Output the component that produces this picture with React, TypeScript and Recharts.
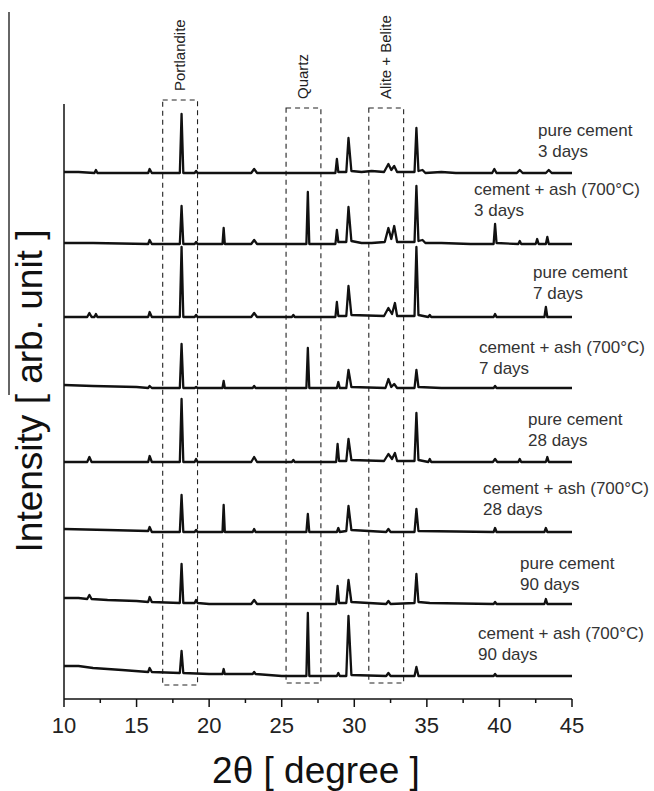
import React from "react";
import { LineChart, Line, XAxis, YAxis, ReferenceArea, ReferenceLine } from "recharts";

// 2theta ticks (major ones get a label)
const xTicks = [10, 12.5, 15, 17.5, 20, 22.5, 25, 27.5, 30, 32.5, 35, 37.5, 40, 42.5, 45];
const majorTicks = [10, 15, 20, 25, 30, 35, 40, 45];

// vertical offset of each pattern (arb. units), top to bottom
const offsets = [526, 455, 382, 311, 237, 167, 95, 23];

const sampleNames = [
  "pure cement", "cement + ash (700°C)", "pure cement", "cement + ash (700°C)",
  "pure cement", "cement + ash (700°C)", "pure cement", "cement + ash (700°C)",
];
const sampleAges = ["3 days", "3 days", "7 days", "7 days", "28 days", "28 days", "90 days", "90 days"];

// phase windows [from, to, bottom, top]
const phaseNames = ["Portlandite", "Quartz", "Alite + Belite"];
const phaseBoxes = [
  [16.8, 19.2, 14, 599],
  [25.3, 27.7, 16, 591],
  [31.0, 33.4, 16, 591],
];

// measured patterns [2theta, intensity]
const pc3: number[][] = [
  [10, 1], [11, 1], [12.1, 0], [12.2, 3], [12.3, 0], [14, 0], [15.8, 0], [15.9, 4], [16.05, 0],
  [17.98, 0], [18.1, 59], [18.22, 0], [19, 0], [19.1, 2], [19.2, 0], [22.9, 0], [23.1, 4], [23.3, 0],
  [26, 0], [28.7, 0], [28.8, 14], [28.9, 1], [29.45, 1], [29.6, 35], [29.8, 2], [30.5, 1], [31.2, 2],
  [32.05, 1], [32.35, 9], [32.55, 3], [32.75, 7], [32.95, 1], [34.15, 1], [34.28, 45], [34.42, 2],
  [34.7, 3], [34.9, 0], [36, 1], [37, 0], [39.5, 0], [39.65, 4], [39.8, 0], [41.2, 0], [41.4, 3],
  [41.6, 0], [43.2, 0], [43.4, 3], [43.6, 0], [45, 0],
];
const ash3: number[][] = [
  [10, 1], [12, 1], [15.8, 0], [15.9, 4], [16.05, 0], [17.98, 0], [18.1, 38], [18.22, 0], [19, 0],
  [19.1, 2], [19.2, 0], [20.92, 0], [21.0, 16], [21.08, 0], [22.9, 0], [23.1, 4], [23.3, 0], [26.7, 0],
  [26.8, 52], [26.9, 0], [28.7, 0], [28.8, 14], [28.9, 2], [29.45, 2], [29.6, 37], [29.8, 3], [30.5, 1],
  [31.2, 1], [32.1, 2], [32.35, 16], [32.55, 5], [32.75, 18], [32.95, 2], [34.15, 2], [34.28, 58],
  [34.42, 3], [34.7, 4], [34.9, 1], [36, 1], [38, 0], [39.6, 0], [39.7, 20], [39.8, 1], [41.3, 0],
  [41.4, 3], [41.5, 0], [42.5, 0], [42.6, 5], [42.7, 0], [43.2, 0], [43.3, 7], [43.4, 0], [45, 0],
];
const pc7: number[][] = [
  [10, 0], [11.6, 0], [11.75, 4], [11.9, 0], [12.1, 0], [12.2, 3], [12.3, 0], [15.8, 0], [15.9, 5],
  [16.05, 0], [17.98, 0], [18.1, 70], [18.22, 0], [19, 0], [19.1, 2], [19.2, 0], [22.9, 0], [23.1, 4],
  [23.3, 0], [25.7, 0], [25.8, 2], [25.9, 0], [28.7, 0], [28.8, 15], [28.9, 1], [29.45, 1], [29.6, 31],
  [29.8, 2], [32.05, 1], [32.35, 9], [32.6, 3], [32.8, 14], [32.95, 1], [34.15, 1], [34.28, 70],
  [34.42, 2], [35.1, 0], [35.2, 2], [35.3, 0], [39.6, 0], [39.7, 3], [39.8, 0], [43.1, 0], [43.2, 10],
  [43.3, 0], [45, 0],
];
const ash7: number[][] = [
  [10, 3], [12, 2], [15, 1], [15.8, 0], [15.9, 2], [16.05, 0], [17.98, 0], [18.1, 44], [18.22, 0],
  [19, 0], [19.1, 1], [19.2, 0], [20.92, 0], [21.0, 7], [21.08, 0], [23, 0], [23.1, 2], [23.2, 0],
  [26.7, 0], [26.8, 40], [26.9, 0], [28.8, 0], [28.9, 6], [29.0, 0], [29.45, 0], [29.6, 18], [29.8, 1],
  [32.15, 0], [32.35, 9], [32.55, 1], [32.75, 4], [32.95, 0], [34.15, 0], [34.28, 18], [34.42, 1],
  [36, 0], [39.6, 0], [39.7, 2], [39.8, 0], [45, 0],
];
const pc28: number[][] = [
  [10, 0], [11.6, 0], [11.75, 5], [11.9, 0], [15.8, 0], [15.9, 6], [16.05, 0], [17.98, 0], [18.1, 63],
  [18.22, 0], [19, 0], [19.1, 3], [19.2, 0], [22.9, 0], [23.1, 5], [23.3, 0], [25.7, 0], [25.8, 2],
  [25.9, 0], [28.75, 0], [28.85, 18], [28.95, 1], [29.45, 1], [29.6, 23], [29.8, 2], [32.05, 1],
  [32.35, 8], [32.6, 3], [32.8, 9], [32.95, 1], [34.15, 1], [34.28, 49], [34.42, 2], [35.1, 0],
  [35.2, 3], [35.3, 0], [39.55, 0], [39.7, 3], [39.85, 0], [41.3, 0], [41.4, 3], [41.5, 0], [43.2, 0],
  [43.3, 5], [43.4, 0], [45, 0],
];
const ash28: number[][] = [
  [10, 3], [13, 2], [15.8, 1], [15.9, 5], [16.05, 0], [17.98, 0], [18.1, 37], [18.22, 0], [19, 0],
  [19.1, 2], [19.2, 0], [20.92, 0], [21.0, 27], [21.08, 0], [23, 0], [23.1, 3], [23.2, 0], [26.7, 0],
  [26.8, 18], [26.9, 0], [28.8, 0], [28.9, 4], [29.0, 0], [29.45, 1], [29.6, 26], [29.8, 2], [32.2, 0],
  [32.35, 3], [32.5, 0], [34.15, 0], [34.28, 23], [34.42, 1], [39.6, 0], [39.7, 4], [39.8, 0],
  [43.1, 0], [43.2, 4], [43.3, 0], [45, 0],
];
const pc90: number[][] = [
  [10, 6], [11, 6], [11.6, 5], [11.75, 9], [11.9, 5], [13, 4], [15, 3], [15.8, 2], [15.9, 7],
  [16.05, 2], [17.98, 1], [18.1, 40], [18.22, 1], [19, 1], [19.1, 4], [19.2, 1], [20, 0], [22.9, 0],
  [23.1, 4], [23.3, 0], [28.75, 0], [28.85, 18], [28.95, 1], [29.45, 1], [29.6, 24], [29.8, 2],
  [32.2, 0], [32.35, 3], [32.5, 0], [34.15, 1], [34.28, 30], [34.42, 2], [35.2, 1], [39.6, 0],
  [39.7, 2], [39.8, 0], [43.1, 0], [43.2, 5], [43.3, 0], [45, 0],
];
const ash90: number[][] = [
  [10, 10], [11, 10], [12, 8], [14, 6], [15.8, 4], [15.9, 8], [16.05, 4], [17.98, 3], [18.1, 25],
  [18.22, 3], [20, 2], [20.92, 2], [21.0, 7], [21.08, 2], [23, 2], [23.1, 4], [23.2, 2], [25, 0],
  [26.7, 0], [26.8, 63], [26.9, 0], [28.8, 0], [28.9, 3], [29.0, 0], [29.45, 0], [29.6, 60], [29.8, 1],
  [32.2, 0], [32.35, 3], [32.5, 0], [34.15, 0], [34.28, 9], [34.42, 0], [39.6, 0], [39.7, 2],
  [39.8, 0], [45, 0],
];

const patterns = [pc3, ash3, pc7, ash7, pc28, ash28, pc90, ash90];

// label anchor (px) for each pattern caption
const labelPos = [
  [538, 136], [474, 195], [533, 278], [479, 353],
  [528, 425], [483, 494], [520, 569], [478, 639],
];

const FONT = '"Liberation Sans", Arial, Helvetica, sans-serif';
const INK = "#111";

const Tick = (props: any) => {
  const { x, y, payload } = props;
  const major = majorTicks.includes(payload.value);
  return (
    <g>
      <line x1={x} x2={x} y1={y} y2={y + (major ? 8 : 4)} stroke={INK} strokeWidth={1.5} />
      {major && (
        <text x={x} y={y + 34} textAnchor="middle" fontSize={22} fontFamily={FONT} fill="#222">
          {payload.value}
        </text>
      )}
    </g>
  );
};

export default function App() {
  const series = patterns.map((p, i) => p.map(([x, y]) => ({ x, y: y + offsets[i] })));

  return (
    <div style={{ position: "absolute", left: 0, top: 0, width: 654, height: 791, background: "#fff" }}>
      <LineChart width={654} height={791} margin={{ top: 99, right: 82, bottom: 52, left: 64 }}>
        <XAxis
          type="number"
          dataKey="x"
          domain={[10, 45]}
          ticks={xTicks}
          interval={0}
          height={40}
          tickLine={false}
          tickSize={0}
          tickMargin={0}
          tick={<Tick />}
          axisLine={{ stroke: INK, strokeWidth: 1.5 }}
          allowDuplicatedCategory={false}
        />
        <YAxis type="number" domain={[0, 600]} hide />
        <ReferenceLine
          segment={[{ x: 10, y: 0 }, { x: 10, y: 595 }]}
          stroke={INK}
          strokeWidth={1.5}
        />
        {phaseBoxes.map((b, i) => (
          <ReferenceArea
            key={phaseNames[i]}
            x1={b[0]}
            x2={b[1]}
            y1={b[2]}
            y2={b[3]}
            fill="none"
            fillOpacity={0}
            stroke="#222"
            strokeWidth={1.1}
            strokeDasharray="5 4"
            ifOverflow="visible"
          />
        ))}
        {series.map((d, i) => (
          <Line
            key={i}
            data={d}
            dataKey="y"
            type="linear"
            stroke={INK}
            strokeWidth={2.3}
            strokeLinejoin="round"
            dot={false}
            isAnimationActive={false}
          />
        ))}
      </LineChart>
      <svg
        width={654}
        height={791}
        style={{ position: "absolute", left: 0, top: 0, pointerEvents: "none" }}
        fontFamily={FONT}
      >
        <line x1={9} x2={9} y1={12} y2={395} stroke="#333" strokeWidth={1.5} />
        <text
          x={42}
          y={391}
          transform="rotate(-90 42 391)"
          textAnchor="middle"
          fontSize={37}
          fill="#111"
        >
          Intensity [ arb. unit ]
        </text>
        <text x={316} y={783} textAnchor="middle" fontSize={37} fill="#111">
          2θ [ degree ]
        </text>
        {phaseNames.map((n, i) => {
          const cx = 64 + ((phaseBoxes[i][0] + phaseBoxes[i][1]) / 2 - 10) * 14.514 + 5;
          const by = 699 - phaseBoxes[i][3] - 9;
          return (
            <text key={n} x={cx} y={by} transform={`rotate(-90 ${cx} ${by})`} fontSize={15} fill="#222">
              {n}
            </text>
          );
        })}
        {labelPos.map(([x, y], i) => (
          <text key={i} x={x} y={y} fontSize={17} fill="#333">
            <tspan x={x} y={y}>{sampleNames[i]}</tspan>
            <tspan x={x} y={y + 21}>{sampleAges[i]}</tspan>
          </text>
        ))}
      </svg>
    </div>
  );
}
